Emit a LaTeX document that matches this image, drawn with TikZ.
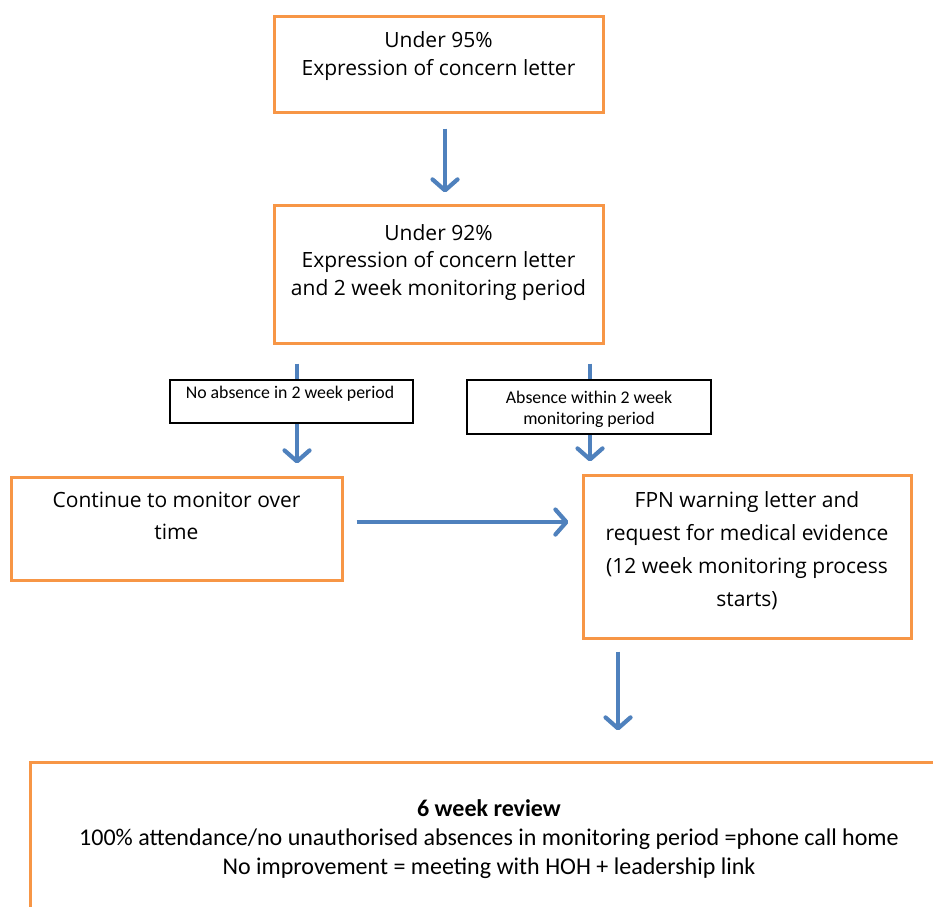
\documentclass[tikz,border=0pt]{standalone}
\usepackage{fontspec}
\setmainfont{Open Sans}
\newfontfamily\calfont{Carlito}
\usetikzlibrary{arrows.meta,calc}
\definecolor{boxorange}{RGB}{247,150,70}
\definecolor{arrowblue}{RGB}{79,129,189}
\begin{document}
\begin{tikzpicture}[x=1pt,y=-1pt,
  obox/.style={draw=boxorange, line width=3pt, fill=white, inner sep=0pt},
  lbox/.style={draw=black, line width=1.3pt, fill=white, inner sep=0pt},
  flow/.style={draw=arrowblue, line width=4.2pt, -{Straight Barb[length=11pt,width=25pt,round]}},
  maintxt/.style={align=center, anchor=north, inner sep=0pt},
  labtxt/.style={align=center, anchor=north, inner sep=0pt, font=\calfont\fontsize{17.8}{21}\selectfont}]
\useasboundingbox (0,0) rectangle (933,906);
\fill[white] (0,0) rectangle (933,906);
% boxes
\node[obox, minimum width=329pt, minimum height=96pt] (b1) at (438.5,64) {};
\node[obox, minimum width=329pt, minimum height=138pt] (b2) at (438.5,274) {};
\node[obox, minimum width=331pt, minimum height=103pt] (b3) at (176.5,528.5) {};
\node[obox, minimum width=328pt, minimum height=163pt] (b4) at (747,556.5) {};
\node[obox, minimum width=940pt, minimum height=180pt] (b5) at (500,852) {};
% texts
\node[maintxt, font=\fontsize{21}{28.5}\selectfont] (t1) at (438.5,31) {Under 95\%\\Expression of concern letter};
\node[maintxt, font=\fontsize{21}{27.5}\selectfont] (t2) at (438.5,224) {Under 92\%\\Expression of concern letter\\and 2 week monitoring period};
\node[maintxt, font=\fontsize{21}{32}\selectfont] (t3) at (176.5,492) {Continue to monitor over\\time};
\node[maintxt, font=\fontsize{21}{33}\selectfont] (t4) at (747,491) {FPN warning letter and\\request for medical evidence\\(12 week monitoring process\\starts)};
\node[maintxt, font=\calfont\fontsize{24}{29}\selectfont] (t5) at (489,799) {\textbf{6 week review}\\100\% attendance/no unauthorised absences in monitoring period =phone call home\\No improvement = meeting with HOH + leadership link};
% arrows
\draw[flow] ($(b1.south)+(6.5,15)$) -- ($(b2.north)+(6.5,-11)$);
\draw[flow] ($(b2.south)+(-141.5,19)$) -- ($(b3.north)+(120.5,-12)$);
\draw[flow] ($(b2.south)+(151.5,19)$) -- ($(b4.north)+(-157,-12)$);
\draw[flow] ($(b3.east)+(13,-6.5)$) -- ($(b4.west)+(-13,-34.5)$);
\draw[flow] ($(b4.south)+(-129,12)$) -- ($(b5.north)+(118,-30)$);
% labels
\node[lbox, minimum width=243pt, minimum height=43pt] (l1) at (291.5,401.5) {};
\node[labtxt] (lt1) at (290,386) {No absence in 2 week period};
\node[lbox, minimum width=244pt, minimum height=54pt] (l2) at (589,407) {};
\begin{scope}
\clip (l2.north west) rectangle (l2.south east);
\node[labtxt] (lt2) at (589,391) {Absence within 2 week\\monitoring period};
\end{scope}
\draw[black, line width=1.3pt] (l2.north west) rectangle (l2.south east);
\end{tikzpicture}
\end{document}
